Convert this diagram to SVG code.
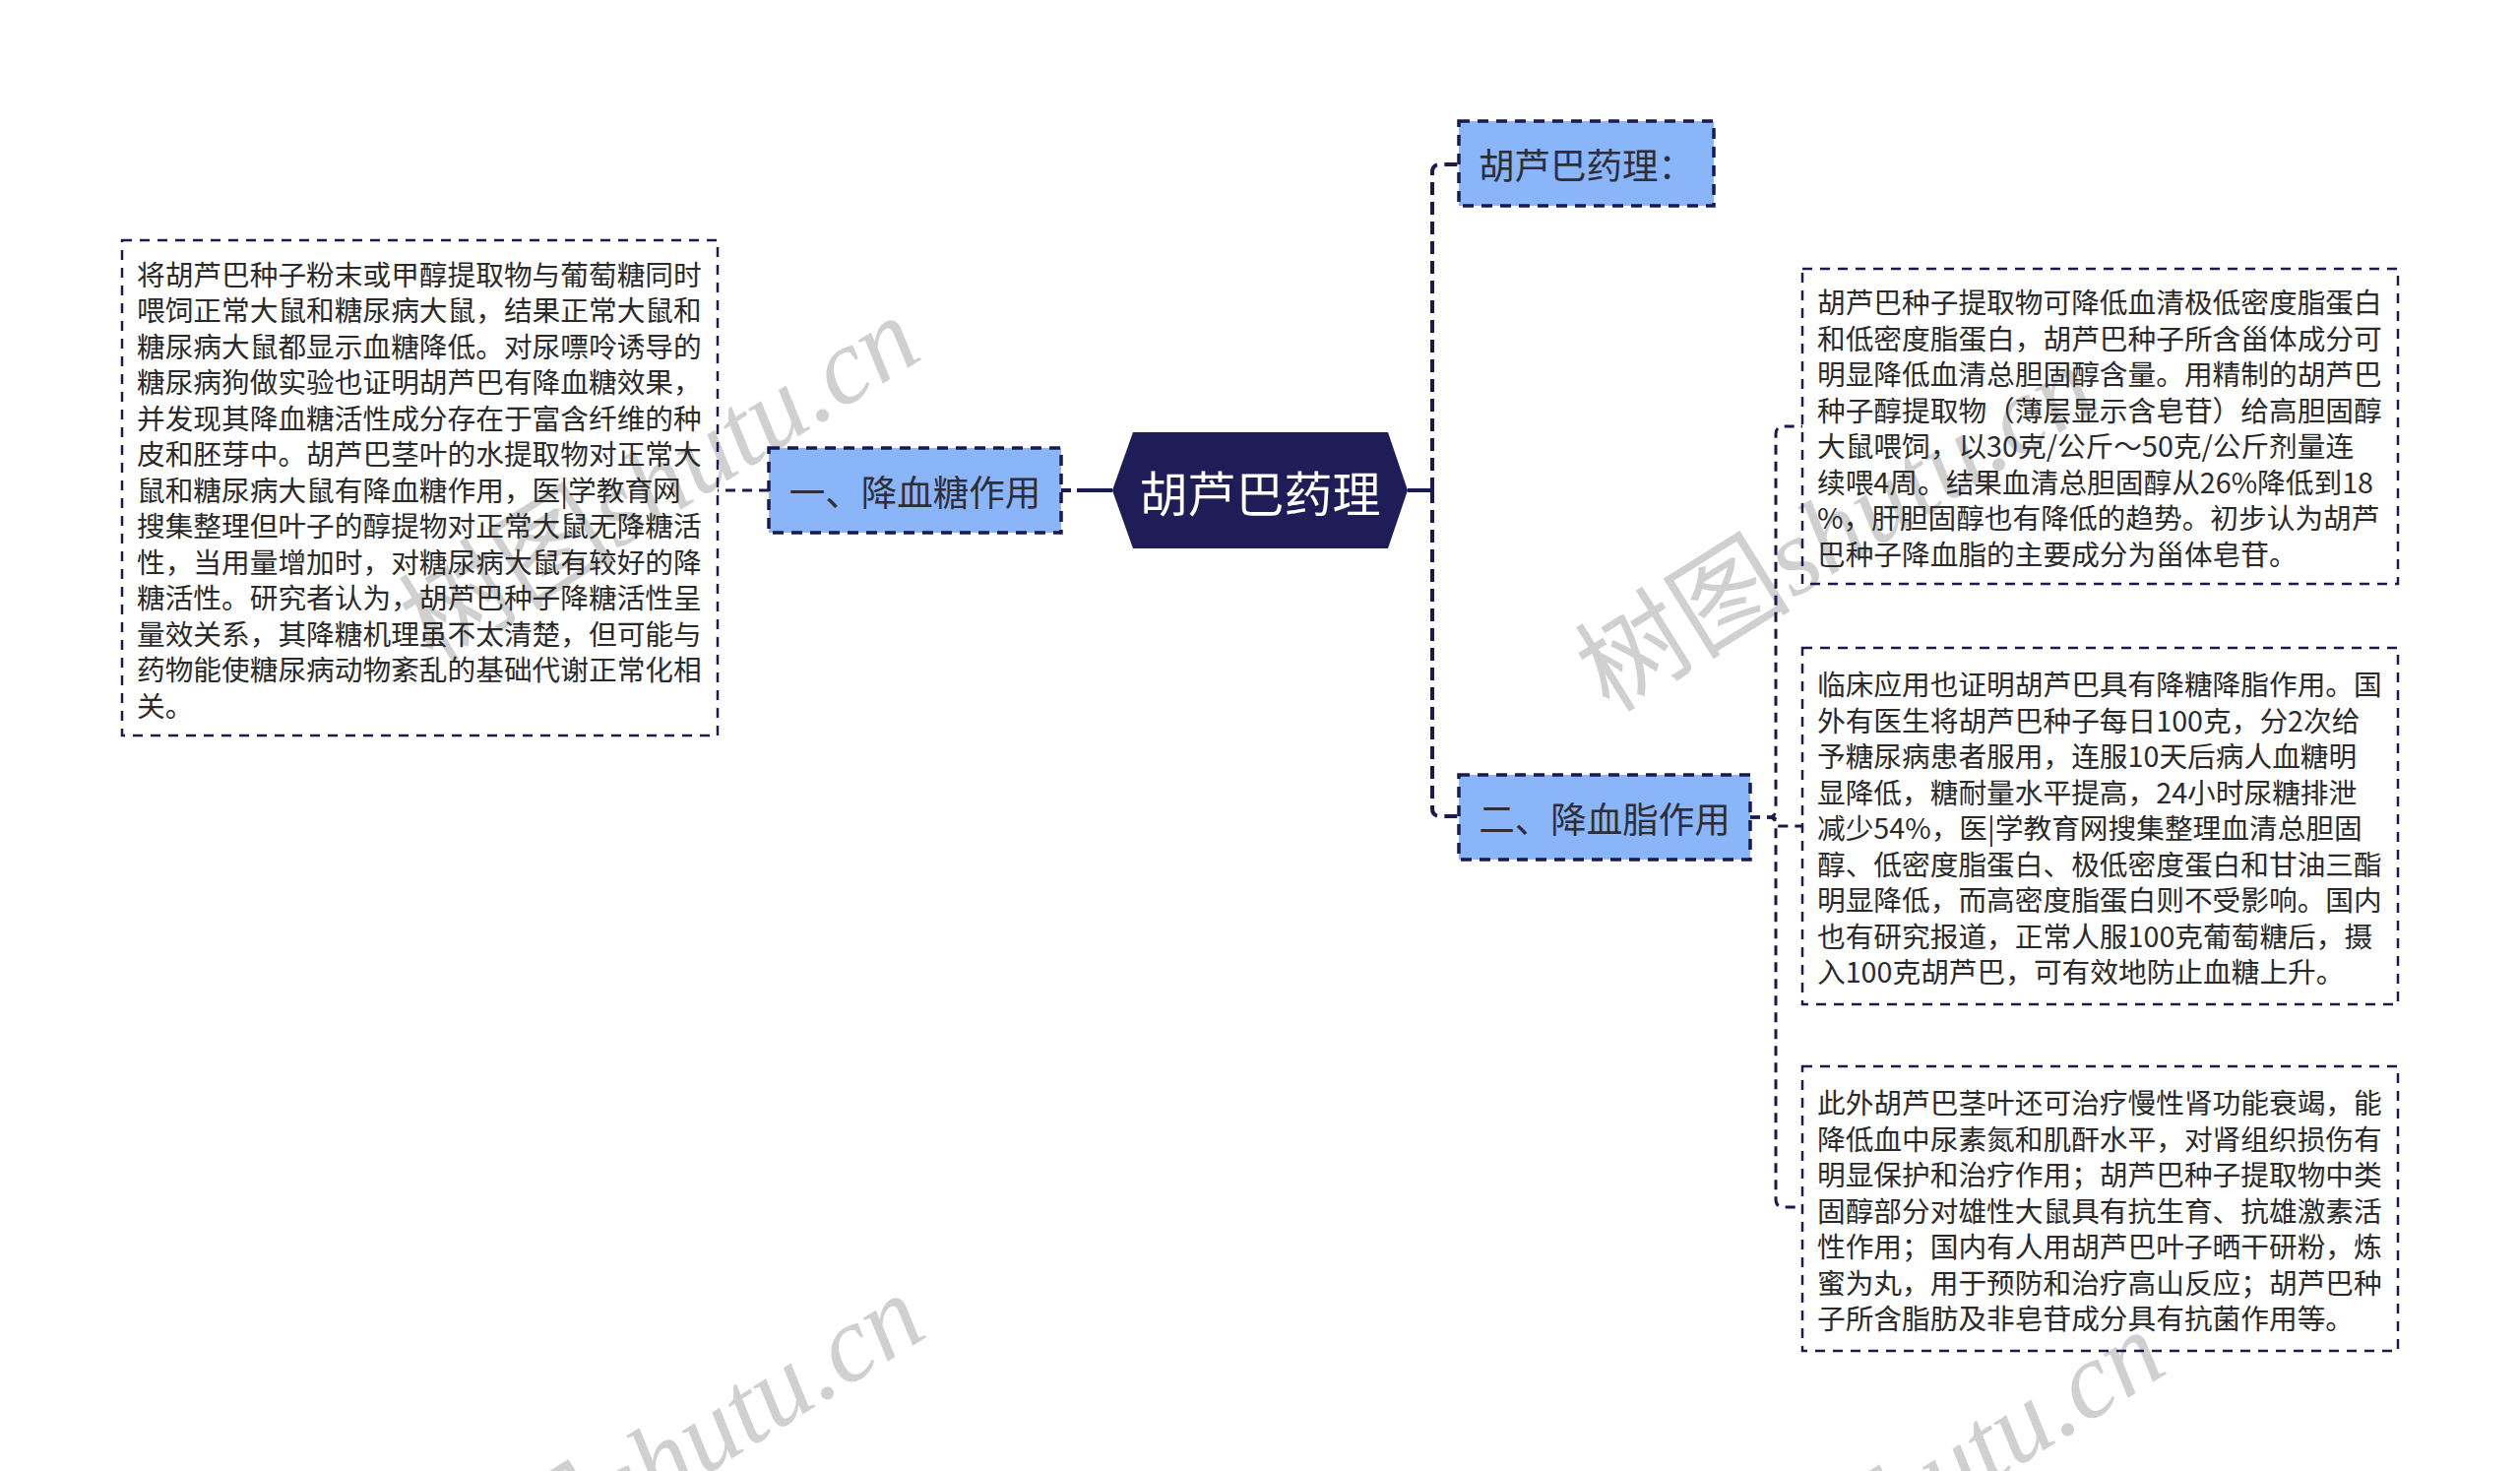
<svg xmlns="http://www.w3.org/2000/svg" width="2560" height="1494" viewBox="0 0 2560 1494">
<style>
.bg{fill:#ffffff}
.wm{fill:#d0d0d0;font-size:110px}
.wmc{font-family:"Noto Sans CJK SC",sans-serif}
.wml{font-family:"Liberation Serif",serif;font-style:italic}
.box{fill:none;stroke:#1b1a50;stroke-width:2.5;stroke-dasharray:10 8}
.node{fill:#8bb5f9;stroke:#1b1a50;stroke-width:3.5;stroke-dasharray:11 8}
.root{fill:#1e1d57}
.txt{font-family:"Noto Sans CJK SC","Microsoft YaHei",sans-serif;font-size:28.7px;fill:#2a2a2a;dominant-baseline:central}
.ntxt{font-family:"Noto Sans CJK SC","Microsoft YaHei",sans-serif;font-size:36.5px;fill:#2e2e38;dominant-baseline:central;text-anchor:middle}
.rtxt{font-family:"Noto Sans CJK SC","Microsoft YaHei",sans-serif;font-size:49px;fill:#ffffff;dominant-baseline:central;text-anchor:middle}
.c{fill:none;stroke:#1b1a50;stroke-width:3;stroke-dasharray:10 7}
.spine{fill:none;stroke:#1b1a50;stroke-width:4;stroke-dasharray:13 7}
.solid{fill:none;stroke:#1b1a50;stroke-width:4}
</style>
<rect class="bg" x="0" y="0" width="2560" height="1494"/>
<g id="watermarks">
<text class="wm" transform="translate(440,675) rotate(-32)"><tspan class="wmc">树图</tspan><tspan class="wml">shutu.cn</tspan></text>
<text class="wm" transform="translate(1635,725) rotate(-32)"><tspan class="wmc">树图</tspan><tspan class="wml">shutu.cn</tspan></text>
<text class="wm" transform="translate(445,1668) rotate(-32)"><tspan class="wmc">树图</tspan><tspan class="wml">shutu.cn</tspan></text>
<text class="wm" transform="translate(1705,1705) rotate(-32)"><tspan class="wmc">树图</tspan><tspan class="wml">shutu.cn</tspan></text>
</g>
<g id="connectors">
<path class="solid" d="M1130,498 H1078" stroke-dasharray="36 6 10 100"/>
<path class="c" d="M781,498 H729"/>
<path class="solid" d="M1430,498 H1455"/>
<path class="spine" d="M1455,498 V175 Q1455,167 1463,167 H1482"/>
<path class="spine" d="M1455,498 V821 Q1455,829 1463,829 H1482"/>
<path class="c" d="M1778,830 H1796 Q1804,830 1804,822 V441 Q1804,433 1812,433 H1831"/>
<path class="c" d="M1778,830 H1800 Q1804,830 1804,834 V835 Q1804,839 1808,839 H1831"/>
<path class="c" d="M1778,830 H1796 Q1804,830 1804,838 V1218 Q1804,1226 1812,1226 H1831"/>
</g>
<g id="root">
<polygon class="root" points="1130,498 1151,439 1410,439 1430,498 1410,557 1151,557"/>
<text class="rtxt" x="1280" y="498">胡芦巴药理</text>
</g>
<g id="n-xuetang">
<rect class="node" x="781" y="455" width="297" height="86"/>
<text class="ntxt" x="929.5" y="498">一、降血糖作用</text>
</g>
<g id="n-yaoli">
<rect class="node" x="1482" y="123" width="259" height="86"/>
<text class="ntxt" x="1611.5" y="166">胡芦巴药理：</text>
</g>
<g id="n-xuezhi">
<rect class="node" x="1482" y="787" width="296" height="86"/>
<text class="ntxt" x="1630" y="830">二、降血脂作用</text>
</g>
<g id="box-xuetang">
<rect class="box" x="124" y="244" width="605" height="503"/>
<text class="txt">
<tspan x="139" y="276.5">将胡芦巴种子粉末或甲醇提取物与葡萄糖同时</tspan>
<tspan x="139" y="313">喂饲正常大鼠和糖尿病大鼠，结果正常大鼠和</tspan>
<tspan x="139" y="349.5">糖尿病大鼠都显示血糖降低。对尿嘌呤诱导的</tspan>
<tspan x="139" y="386">糖尿病狗做实验也证明胡芦巴有降血糖效果，</tspan>
<tspan x="139" y="422.5">并发现其降血糖活性成分存在于富含纤维的种</tspan>
<tspan x="139" y="459">皮和胚芽中。胡芦巴茎叶的水提取物对正常大</tspan>
<tspan x="139" y="495.5">鼠和糖尿病大鼠有降血糖作用，医|学教育网</tspan>
<tspan x="139" y="532">搜集整理但叶子的醇提物对正常大鼠无降糖活</tspan>
<tspan x="139" y="568.5">性，当用量增加时，对糖尿病大鼠有较好的降</tspan>
<tspan x="139" y="605">糖活性。研究者认为，胡芦巴种子降糖活性呈</tspan>
<tspan x="139" y="641.5">量效关系，其降糖机理虽不太清楚，但可能与</tspan>
<tspan x="139" y="678">药物能使糖尿病动物紊乱的基础代谢正常化相</tspan>
<tspan x="139" y="714.5">关。</tspan>
</text>
</g>
<g id="box-xuezhi-1">
<rect class="box" x="1831" y="273" width="605" height="320"/>
<text class="txt">
<tspan x="1846" y="305.3">胡芦巴种子提取物可降低血清极低密度脂蛋白</tspan>
<tspan x="1846" y="341.8">和低密度脂蛋白，胡芦巴种子所含甾体成分可</tspan>
<tspan x="1846" y="378.3">明显降低血清总胆固醇含量。用精制的胡芦巴</tspan>
<tspan x="1846" y="414.8">种子醇提取物（薄层显示含皂苷）给高胆固醇</tspan>
<tspan x="1846" y="451.3">大鼠喂饲，以30克/公斤～50克/公斤剂量连</tspan>
<tspan x="1846" y="487.8">续喂4周。结果血清总胆固醇从26%降低到18</tspan>
<tspan x="1846" y="524.3">%，肝胆固醇也有降低的趋势。初步认为胡芦</tspan>
<tspan x="1846" y="560.8">巴种子降血脂的主要成分为甾体皂苷。</tspan>
</text>
</g>
<g id="box-xuezhi-2">
<rect class="box" x="1831" y="658" width="605" height="362"/>
<text class="txt">
<tspan x="1846" y="693">临床应用也证明胡芦巴具有降糖降脂作用。国</tspan>
<tspan x="1846" y="729.5">外有医生将胡芦巴种子每日100克，分2次给</tspan>
<tspan x="1846" y="766">予糖尿病患者服用，连服10天后病人血糖明</tspan>
<tspan x="1846" y="802.5">显降低，糖耐量水平提高，24小时尿糖排泄</tspan>
<tspan x="1846" y="839">减少54%，医|学教育网搜集整理血清总胆固</tspan>
<tspan x="1846" y="875.5">醇、低密度脂蛋白、极低密度蛋白和甘油三酯</tspan>
<tspan x="1846" y="912">明显降低，而高密度脂蛋白则不受影响。国内</tspan>
<tspan x="1846" y="948.5">也有研究报道，正常人服100克葡萄糖后，摄</tspan>
<tspan x="1846" y="985">入100克胡芦巴，可有效地防止血糖上升。</tspan>
</text>
</g>
<g id="box-xuezhi-3">
<rect class="box" x="1831" y="1083" width="605" height="289"/>
<text class="txt">
<tspan x="1846" y="1118">此外胡芦巴茎叶还可治疗慢性肾功能衰竭，能</tspan>
<tspan x="1846" y="1154.5">降低血中尿素氮和肌酐水平，对肾组织损伤有</tspan>
<tspan x="1846" y="1191">明显保护和治疗作用；胡芦巴种子提取物中类</tspan>
<tspan x="1846" y="1227.5">固醇部分对雄性大鼠具有抗生育、抗雄激素活</tspan>
<tspan x="1846" y="1264">性作用；国内有人用胡芦巴叶子晒干研粉，炼</tspan>
<tspan x="1846" y="1300.5">蜜为丸，用于预防和治疗高山反应；胡芦巴种</tspan>
<tspan x="1846" y="1337">子所含脂肪及非皂苷成分具有抗菌作用等。</tspan>
</text>
</g>
</svg>
